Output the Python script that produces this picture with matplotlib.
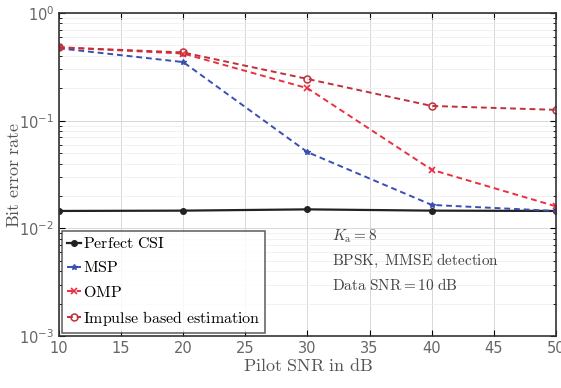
import matplotlib
matplotlib.use("Agg")
import matplotlib.pyplot as plt
import numpy as np

plt.rcParams['mathtext.fontset'] = 'cm'
plt.rcParams['font.family'] = ['DejaVu Sans']

snr = [10, 20, 30, 40, 50]
perfect_csi = [0.0145, 0.0146, 0.0150, 0.0146, 0.0145]
msp = [0.47, 0.35, 0.051, 0.0165, 0.0145]
omp = [0.48, 0.42, 0.20, 0.035, 0.016]
impulse = [0.48, 0.43, 0.244, 0.137, 0.126]

labels = [r'$\mathrm{Perfect\ CSI}$', r'$\mathrm{MSP}$', r'$\mathrm{OMP}$',
          r'$\mathrm{Impulse\ based\ estimation}$']

fig = plt.figure(figsize=(5.61, 3.88), dpi=100)
ax = fig.add_axes([59/561, 1-336/388, (556-59)/561, (336-13)/388])

dash = (3.0, 2.0)
ax.semilogy(snr, perfect_csi, '-', color='#222222', marker='o', ms=4, lw=1.6, label=labels[0])
ax.semilogy(snr, msp, '--', dashes=dash, color='#3a4fb0', marker='*', ms=4, lw=1.4, label=labels[1])
ax.semilogy(snr, omp, '--', dashes=dash, color='#e83040', marker='x', ms=4, mew=1.2, lw=1.4, label=labels[2])
ax.semilogy(snr, impulse, '--', dashes=dash, color='#c0303a', marker='o', mfc='none', ms=5, mew=1.1, lw=1.4, label=labels[3])

ax.set_xlim(10, 50)
ax.set_ylim(1e-3, 1)
ax.set_xticks([10, 15, 20, 25, 30, 35, 40, 45, 50])
ax.grid(True, which='major', color='#d8d8d8', lw=0.7)
ax.grid(True, which='minor', axis='y', color='#ececec', lw=0.5)
ax.tick_params(which='both', direction='in', top=True, right=True, labelsize=10.5, labelcolor='#666666')
ax.tick_params(which='major', length=4)
ax.tick_params(which='minor', length=2)
for s in ax.spines.values():
    s.set_linewidth(1.2)
    s.set_color('#333333')

ax.set_xlabel(r'$\mathrm{Pilot\ SNR\ in\ dB}$', fontsize=13, color='#555555', labelpad=1)
ax.set_ylabel(r'$\mathrm{Bit\ error\ rate}$', fontsize=13, color='#555555')
ax.yaxis.set_label_coords(-0.072, 0.5)

leg = ax.legend(loc='lower left', fontsize=11.5, frameon=True, fancybox=False,
                edgecolor='#333333', handlelength=0.9, handletextpad=0.1,
                borderpad=0.3, labelspacing=0.58, borderaxespad=0.2)
leg.get_frame().set_linewidth(1.1)

ax.text(0.550, 0.235, r'$K_{\mathrm{a}}=8$' + '\n' + r'$\mathrm{BPSK,\ MMSE\ detection}$' + '\n' + r'$\mathrm{Data\ SNR} = 10\ \mathrm{dB}$',
        transform=ax.transAxes, fontsize=11, color='#444444', va='center', ha='left', linespacing=1.55)

fig.savefig('out.png', dpi=100)
